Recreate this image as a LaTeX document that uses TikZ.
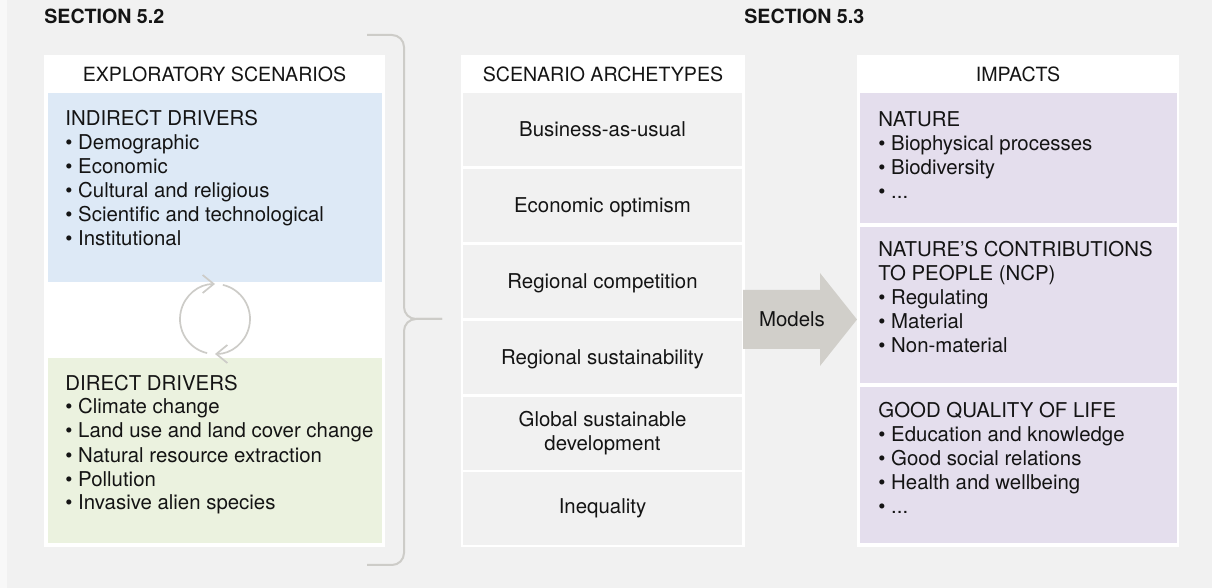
\documentclass[tikz,border=0pt]{standalone}
\usepackage{fontspec}
\setmainfont{TeX Gyre Heros}
\usepackage{xcolor}
\usepackage{tikz}
\usetikzlibrary{arrows.meta, positioning}
\definecolor{bggray}{HTML}{F1F1F1}
\definecolor{edgegray}{HTML}{F8F8F8}
\definecolor{driverblue}{HTML}{DDE9F6}
\definecolor{drivergreen}{HTML}{EBF2DF}
\definecolor{impactlilac}{HTML}{E4DEED}
\definecolor{linegray}{HTML}{CDCCC8}
\definecolor{arrowgray}{HTML}{D1CFCA}
\definecolor{textblack}{HTML}{141414}
\tikzstyle{section} = [anchor=base west, inner sep=0pt, font=\bfseries\fontsize{9.8}{12}\selectfont]
\tikzstyle{header} = [anchor=base, inner sep=0pt, font=\fontsize{9.8}{12}\selectfont]
\tikzstyle{listtext} = [anchor=base west, inner sep=0pt, align=left]
\tikzstyle{archcell} = [fill=bggray, minimum width=139.5pt, minimum height=36.5pt,
 inner sep=0pt, align=center]
\tikzstyle{archone} = [archcell, text height=7pt, text depth=0pt]
\tikzstyle{bracket} = [draw=linegray, line width=1pt, rounded corners=6pt]
\tikzstyle{cyclearrow} = [draw=linegray, line width=0.85pt, -{Straight Barb[length=5.5pt, width=9pt]}]

\begin{document}
\begin{tikzpicture}[x=0.5pt, y=-0.5pt, text=textblack, font=\fontsize{10.2}{12}\selectfont]
	% Hintergrund
	\useasboundingbox (0,0) rectangle (1212,588);
	\fill[bggray] (0,0) rectangle (1212,588);
	\fill[edgegray] (0,0) rectangle (7,588);
	\node[section] (sec52) at (44,24) {SECTION 5.2};
	\node[section] (sec53) at (744,24) {SECTION 5.3};

	% Explorative Szenarien (Listen: Anker = Grundlinie der letzten Zeile)
	\fill[white] (44,55) rectangle (385,547); % Rahmen
	\node[header] (explo) at (214.5,82) {EXPLORATORY SCENARIOS};
	\fill[driverblue] (48,93) rectangle (382,282); % indirekte Treiber
	\node[listtext] (indirect) at (65,246) {INDIRECT DRIVERS\\
		\textbullet\ Demographic\\
		\textbullet\ Economic\\
		\textbullet\ Cultural and religious\\
		\textbullet\ Scientific and technological\\
		\textbullet\ Institutional};
	\fill[drivergreen] (48,358) rectangle (382,543); % direkte Treiber
	\node[listtext] (direct) at (65,510) {DIRECT DRIVERS\\
		\textbullet\ Climate change\\
		\textbullet\ Land use and land cover change\\
		\textbullet\ Natural resource extraction\\
		\textbullet\ Pollution\\
		\textbullet\ Invasive alien species};
	\coordinate (cyc) at (215,319); % Kreislauf
	\draw[cyclearrow] ([shift={(257:17.5pt)}]cyc) arc[start angle=257, end angle=90, radius=17.5pt];
	\draw[cyclearrow] ([shift={(77:17.5pt)}]cyc) arc[start angle=77, end angle=-90, radius=17.5pt];

	% Klammer
	\coordinate (bracetop) at (367,35);
	\coordinate (bracebot) at (367,565);
	\coordinate (bracetip) at (442,319);
	\draw[bracket] (bracetop) -- (404,35) -- (404,319) -- (bracetip);
	\draw[bracket] (bracetip) -- (404,319) -- (404,565) -- (bracebot);

	% Szenario-Archetypen
	\fill[white] (461,55) rectangle (745,547); % Rahmen
	\node[header] (arch) at (603,82) {SCENARIO ARCHETYPES};
	\node[archone] (bau) at (602.5,129.5) {Business-as-usual};
	\node[archone] (econ) at (602.5,205.5) {Economic optimism};
	\node[archone] (regcomp) at (602.5,281.5) {Regional competition};
	\node[archone] (regsust) at (602.5,357.5) {Regional sustainability};
	\node[archcell] (global) at (602.5,433.5) {Global sustainable\\development};
	\node[archcell] (inequal) at (602.5,508.5) {Inequality};

	% Modelle
	\fill[arrowgray] (743,290) -- (820,290) -- (820,273) -- (857,319.5) -- (820,366) -- (820,349) -- (743,349) -- cycle;
	\node (models) at (792,319.5) {Models};

	% Auswirkungen
	\fill[white] (857,55) rectangle (1179,547); % Rahmen
	\node[header] (impacts) at (1018,82) {IMPACTS};
	\fill[impactlilac] (860,93) rectangle (1177,223); % Natur
	\node[listtext] (nature) at (878,199) {NATURE\\
		\textbullet\ Biophysical processes\\
		\textbullet\ Biodiversity\\
		\textbullet\ ...};
	\fill[impactlilac] (860,227) rectangle (1177,383); % NCP
	\node[listtext] (ncp) at (878,353) {NATURE’S CONTRIBUTIONS\\
		TO PEOPLE (NCP)\\
		\textbullet\ Regulating\\
		\textbullet\ Material\\
		\textbullet\ Non-material};
	\fill[impactlilac] (860,387) rectangle (1177,543); % Lebensqualitaet
	\node[listtext] (life) at (878,514) {GOOD QUALITY OF LIFE\\
		\textbullet\ Education and knowledge\\
		\textbullet\ Good social relations\\
		\textbullet\ Health and wellbeing\\
		\textbullet\ ...};
\end{tikzpicture}
\end{document}
